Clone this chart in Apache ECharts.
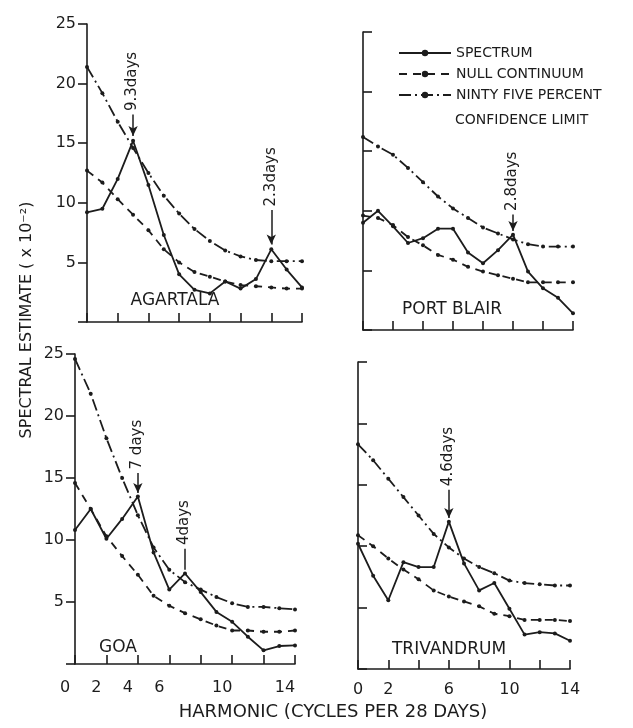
<!DOCTYPE html>
<html>
<head>
<meta charset="utf-8">
<script src="https://cdn.jsdelivr.net/npm/echarts@6/dist/echarts.min.js"></script>
<style>
  html, body { margin: 0; padding: 0; background: #fff; }
  #chart { width: 633px; height: 728px; }
</style>
</head>
<body>
<div id="chart"></div>
<script>
var harmonics = [0, 1, 2, 3, 4, 5, 6, 7, 8, 9, 10, 11, 12, 13, 14]

var stations = ['AGARTALA', 'PORT BLAIR', 'GOA', 'TRIVANDRUM']
var seriesNames = ['SPECTRUM', 'NULL CONTINUUM', 'NINTY FIVE PERCENT']

// spectral estimate (x 10^-2) per harmonic
var agartalaSpectrum = [9.2, 9.5, 12.0, 15.2, 11.5, 7.3, 4.0, 2.7, 2.4, 3.4, 2.8, 3.6, 6.1, 4.4, 2.9]
var agartalaNull = [12.7, 11.7, 10.3, 9.0, 7.7, 6.1, 5.0, 4.2, 3.8, 3.4, 3.1, 3.0, 2.9, 2.8, 2.8]
var agartalaLimit = [21.4, 19.2, 16.8, 14.6, 12.5, 10.6, 9.1, 7.8, 6.8, 6.0, 5.5, 5.2, 5.1, 5.1, 5.1]

var portBlairSpectrum = [9.0, 10.0, 8.7, 7.3, 7.7, 8.5, 8.5, 6.5, 5.6, 6.7, 8.0, 4.9, 3.5, 2.7, 1.4]
var portBlairNull = [9.6, 9.4, 8.8, 7.8, 7.1, 6.3, 5.9, 5.3, 4.9, 4.6, 4.3, 4.0, 4.0, 4.0, 4.0]
var portBlairLimit = [16.2, 15.4, 14.7, 13.6, 12.4, 11.2, 10.2, 9.4, 8.6, 8.1, 7.6, 7.2, 7.0, 7.0, 7.0]

var goaSpectrum = [10.8, 12.5, 10.1, 11.7, 13.5, 9.0, 6.0, 7.3, 5.8, 4.2, 3.4, 2.2, 1.1, 1.45, 1.5]
var goaNull = [14.6, 12.5, 10.3, 8.7, 7.2, 5.5, 4.7, 4.1, 3.6, 3.1, 2.7, 2.7, 2.6, 2.6, 2.7]
var goaLimit = [24.6, 21.8, 18.2, 15.0, 12.0, 9.4, 7.6, 6.6, 6.0, 5.4, 4.9, 4.6, 4.6, 4.5, 4.4]

var trivandrumSpectrum = [10.2, 7.6, 5.6, 8.7, 8.3, 8.3, 12.0, 8.6, 6.4, 7.0, 4.9, 2.8, 3.0, 2.9, 2.3]
var trivandrumNull = [10.9, 10.0, 9.0, 8.1, 7.3, 6.4, 5.9, 5.5, 5.1, 4.5, 4.3, 4.0, 4.0, 4.0, 3.9]
var trivandrumLimit = [18.3, 17.0, 15.5, 14.0, 12.5, 11.0, 9.9, 9.0, 8.3, 7.8, 7.2, 7.0, 6.9, 6.8, 6.8]

// period annotations: harmonic, label, arrow from / to (spectral estimate)
var agartalaNotes = [
  { h: 3, text: '9.3days', from: 17.4, to: 15.6, arrow: true },
  { h: 12, text: '2.3days', from: 9.4, to: 6.5, arrow: true }
]
var portBlairNotes = [{ h: 10, text: '2.8days', from: 9.7, to: 8.3, arrow: true }]
var goaNotes = [
  { h: 4, text: '7 days', from: 15.4, to: 13.8, arrow: true },
  { h: 7, text: '4days', from: 9.3, to: 7.6, arrow: false }
]
var trivandrumNotes = [{ h: 6, text: '4.6days', from: 14.6, to: 12.3, arrow: true }]

var yTicks = [0, 5, 10, 15, 20, 25]
var goaXLabels = [0, 2, 4, 6, 10, 14]
var trivandrumXLabels = [0, 2, 6, 10, 14]

var ink = '#1c1c1c'
var font = 'DejaVu Sans'

var panels = [
  { spectrum: agartalaSpectrum, nul: agartalaNull, limit: agartalaLimit, notes: agartalaNotes },
  { spectrum: portBlairSpectrum, nul: portBlairNull, limit: portBlairLimit, notes: portBlairNotes },
  { spectrum: goaSpectrum, nul: goaNull, limit: goaLimit, notes: goaNotes },
  { spectrum: trivandrumSpectrum, nul: trivandrumNull, limit: trivandrumLimit, notes: trivandrumNotes }
]

var grids = [
  { left: 87, top: 24, width: 215, height: 298 },
  { left: 363, top: 32, width: 210, height: 298 },
  { left: 75, top: 354, width: 220, height: 310 },
  { left: 358, top: 362, width: 212, height: 307 }
]

function pairs(values) {
  return values.map(function (v, i) { return [harmonics[i], v] })
}

var xAxes = grids.map(function (g, i) {
  var shown = i == 2 ? goaXLabels : (i == 3 ? trivandrumXLabels : [])
  return {
    type: 'value', gridIndex: i, min: 0, max: 14, interval: 2,
    axisLine: { lineStyle: { color: ink, width: 1.6 } },
    axisTick: { inside: true, length: 9, lineStyle: { color: ink, width: 1.6 } },
    splitLine: { show: false },
    axisLabel: {
      show: i >= 2, margin: i == 2 ? 16 : 13, color: ink, fontFamily: font, fontSize: 16,
      padding: i == 2 ? [0, 20, 0, 0] : 0,
      formatter: function (v) { return shown.indexOf(v) == -1 ? '' : String(v) }
    }
  }
})

var yAxes = grids.map(function (g, i) {
  var left = i % 2 == 0
  return {
    type: 'value', gridIndex: i, min: yTicks[0], max: yTicks[yTicks.length - 1], interval: 5,
    axisLine: { show: true, lineStyle: { color: ink, width: 1.6 } },
    axisTick: { show: true, inside: !left, length: 9, lineStyle: { color: ink, width: 1.6 } },
    splitLine: { show: false },
    axisLabel: {
      show: left, margin: 11, color: ink, fontFamily: font, fontSize: 16,
      formatter: function (v) { return v == 0 ? '' : String(v) }
    }
  }
})

var series = []
panels.forEach(function (p, i) {
  var notes = p.notes
  series.push({
    name: seriesNames[0], type: 'line', xAxisIndex: i, yAxisIndex: i,
    data: pairs(p.spectrum),
    symbol: 'circle', symbolSize: 4,
    itemStyle: { color: ink },
    lineStyle: { color: ink, width: 1.8, type: 'solid' },
    markLine: {
      silent: true,
      symbol: ['none', 'none'],
      label: { show: false },
      lineStyle: { color: ink, width: 1.5, type: 'solid' },
      data: notes.map(function (n) {
        return [
          { coord: [n.h, n.from], symbol: 'none' },
          { coord: [n.h, n.to], symbol: n.arrow ? 'arrow' : 'none', symbolSize: [7, 10] }
        ]
      })
    },
    markPoint: {
      silent: true,
      symbol: 'circle', symbolSize: 1,
      itemStyle: { color: 'rgba(0,0,0,0)' },
      label: {
        show: true, rotate: 90, position: [0, 0], align: 'left', verticalAlign: 'middle',
        color: ink, fontFamily: font, fontSize: 15,
        formatter: function (d) { return d.name }
      },
      data: notes.map(function (n) {
        return { name: n.text, coord: [n.h, n.from + 0.25] }
      })
    }
  })
  series.push({
    name: seriesNames[1], type: 'line', xAxisIndex: i, yAxisIndex: i,
    data: pairs(p.nul),
    symbol: 'circle', symbolSize: 4,
    itemStyle: { color: ink },
    lineStyle: { color: ink, width: 1.8, type: [8, 6] }
  })
  series.push({
    name: seriesNames[2], type: 'line', xAxisIndex: i, yAxisIndex: i,
    data: pairs(p.limit),
    symbol: 'circle', symbolSize: 4,
    itemStyle: { color: ink },
    lineStyle: { color: ink, width: 1.8, type: [12, 4, 2, 4] }
  })
})

var labelStyle = { fill: ink, font: '16px "DejaVu Sans"', textAlign: 'center', textVerticalAlign: 'middle' }

function text(x, y, str, extra) {
  var style = Object.assign({}, labelStyle, { text: str }, extra || {})
  return { type: 'text', x: x, y: y, style: style, silent: true }
}

var graphics = [
  text(175, 301, stations[0], { font: '17px "DejaVu Sans"' }),
  text(452, 310, stations[1], { font: '17px "DejaVu Sans"' }),
  text(118, 648, stations[2], { font: '17px "DejaVu Sans"' }),
  text(449, 650, stations[3], { font: '17px "DejaVu Sans"' }),
  text(455, 120, 'CONFIDENCE LIMIT', { textAlign: 'left', font: '14px "DejaVu Sans"' }),
  text(333, 712, 'HARMONIC (CYCLES PER 28 DAYS)', { font: '18px "DejaVu Sans"' }),
  Object.assign(text(0, 0, 'SPECTRAL ESTIMATE ( x 10\u207B\u00B2)', { font: '16px "DejaVu Sans"' }),
    { x: 27, y: 320, rotation: Math.PI / 2 })
]

var chart = echarts.init(document.getElementById('chart'), null, { renderer: 'canvas' })
var option = {
  backgroundColor: '#fff',
  animation: false,
  legend: {
    orient: 'vertical', left: 393, top: 41,
    itemWidth: 52, itemHeight: 8, itemGap: 7,
    data: seriesNames,
    textStyle: { color: ink, fontFamily: font, fontSize: 14 },
    selectedMode: false
  },
  grid: grids,
  xAxis: xAxes,
  yAxis: yAxes,
  series: series,
  graphic: graphics
}
chart.setOption(option)
</script>
</body>
</html>
